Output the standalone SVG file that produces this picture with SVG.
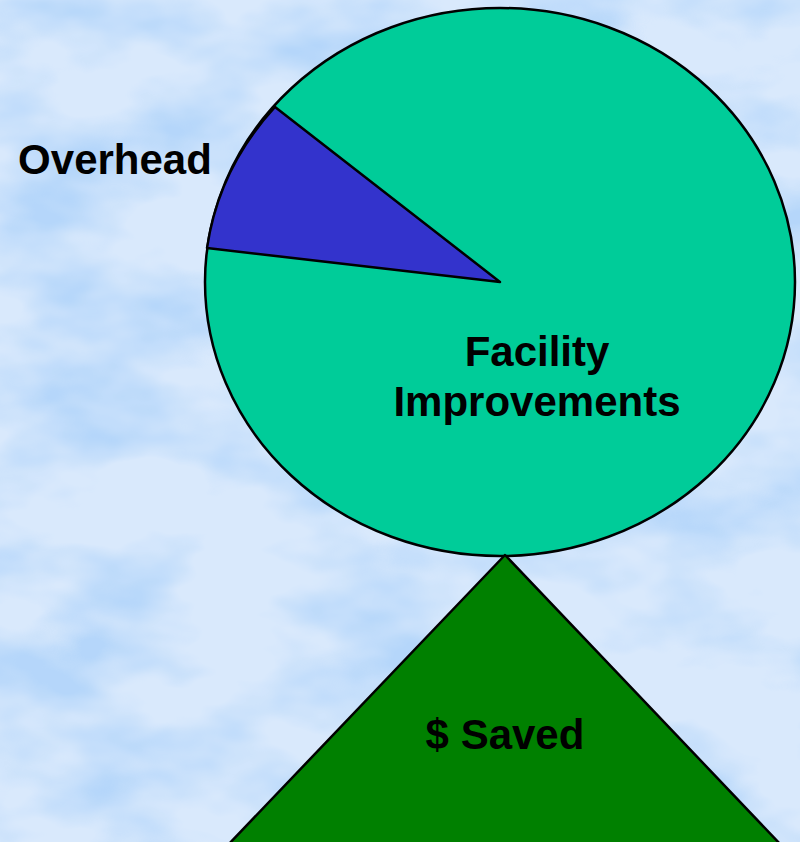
<svg xmlns="http://www.w3.org/2000/svg" width="800" height="842" viewBox="0 0 800 842">
  <defs>
    <filter id="clouds" x="0" y="0" width="800" height="842" filterUnits="userSpaceOnUse" color-interpolation-filters="sRGB">
      <feTurbulence type="fractalNoise" baseFrequency="0.006 0.011" numOctaves="4" seed="7" result="n"/>
      <feColorMatrix in="n" type="matrix" values="0 0 0 0 0.71  0 0 0 0 0.84  0 0 0 0 0.98  3 0 0 0 -1.25"/>
    </filter>
    <style>
      .lbl { font-family: "Liberation Sans", Arial, sans-serif; font-weight: bold; font-size: 42px; fill: #000; text-anchor: middle; }
      .edge { stroke: #000; stroke-width: 2.5; stroke-linejoin: round; }
    </style>
  </defs>
  <g id="background">
    <rect x="0" y="0" width="800" height="842" fill="#d9e9fc"/>
    <rect x="0" y="0" width="800" height="842" fill="#fff" filter="url(#clouds)"/>
  </g>
  <g id="pie">
    <ellipse id="facility-slice" cx="500" cy="282" rx="295" ry="274" fill="#00CC99" class="edge"/>
    <path id="overhead-slice" d="M500,282 L275,107 A295,274 0 0 0 207,248 Z" fill="#3333CC" class="edge"/>
  </g>
  <g id="saved">
    <path d="M505,555 L227,846 L782,846 Z" fill="#008000" class="edge"/>
  </g>
  <g id="labels">
    <text class="lbl" x="115" y="174">Overhead</text>
    <text class="lbl" x="537" y="366">Facility</text>
    <text class="lbl" x="537" y="416">Improvements</text>
    <text class="lbl" x="505" y="749">$ Saved</text>
  </g>
</svg>
